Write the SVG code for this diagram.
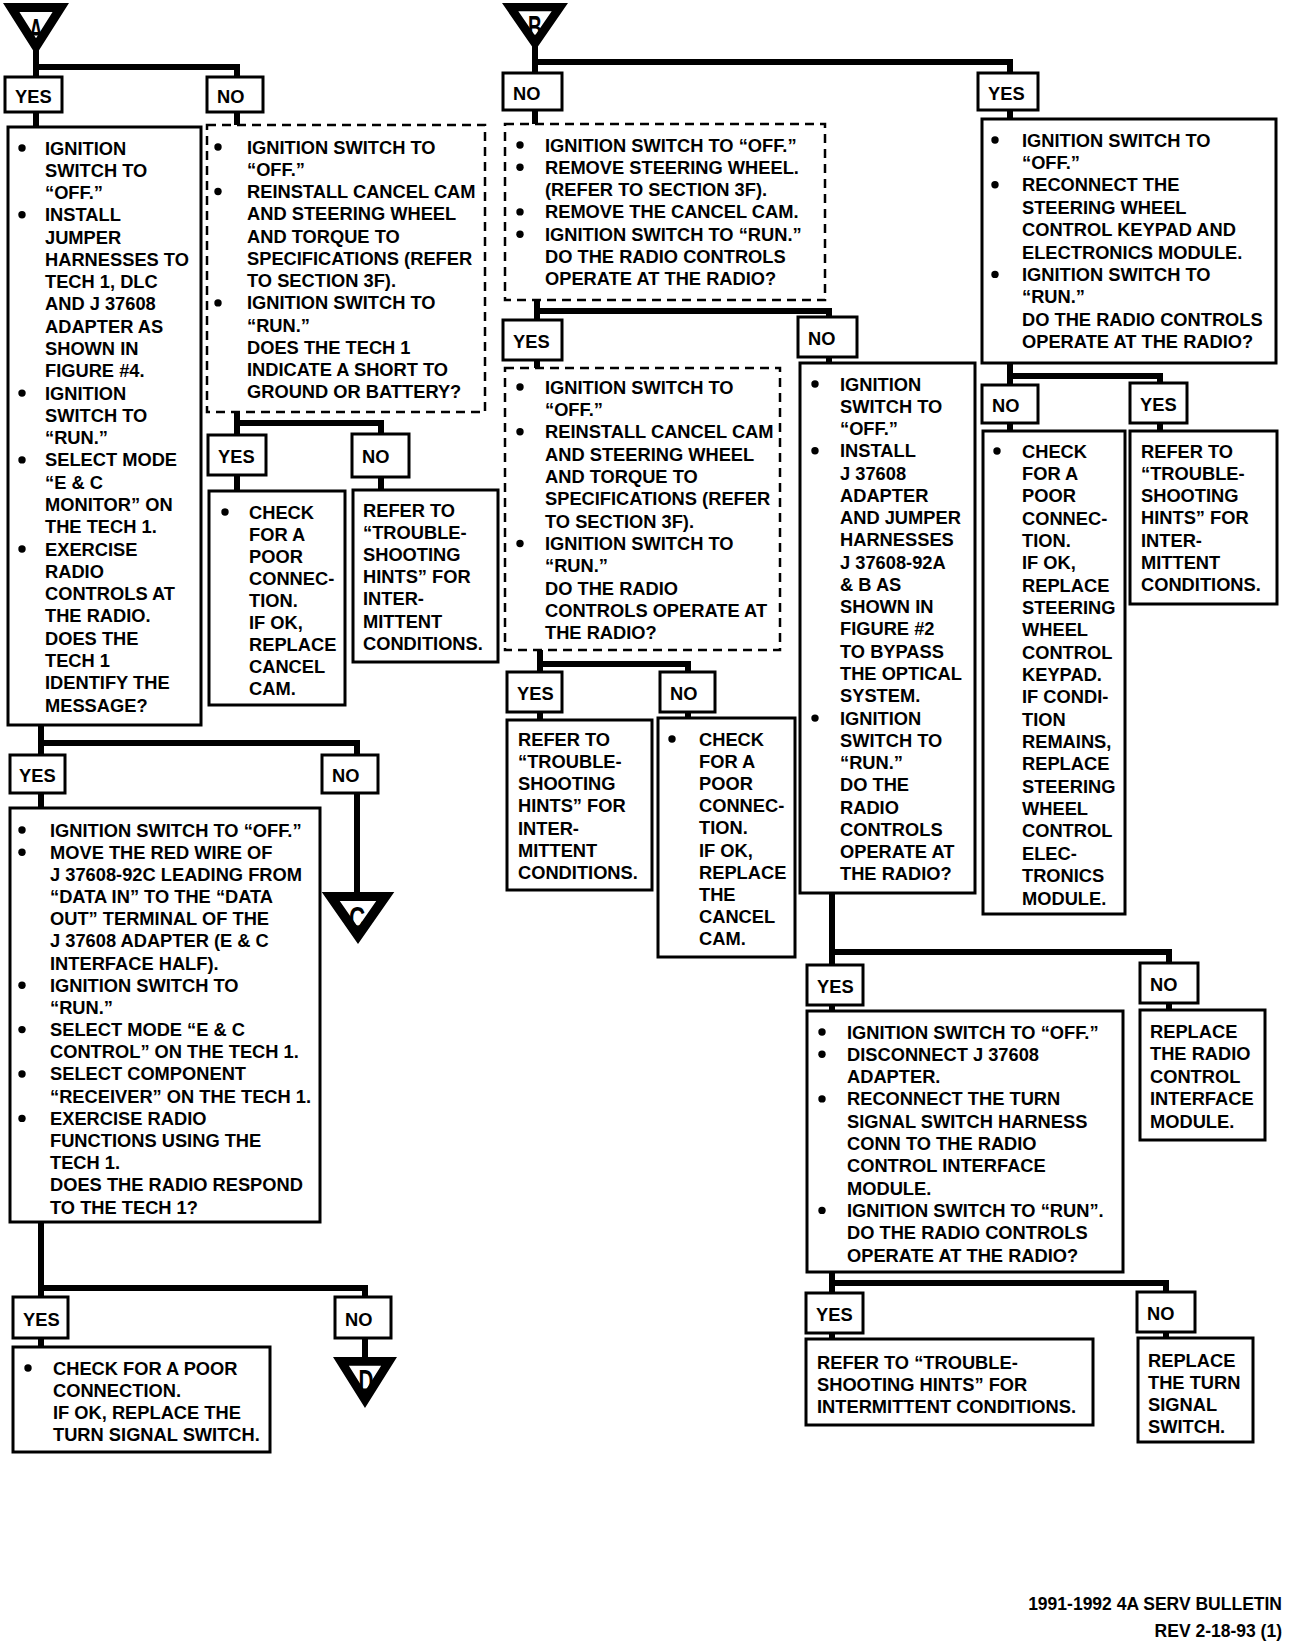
<svg xmlns="http://www.w3.org/2000/svg" xmlns:xlink="http://www.w3.org/1999/xlink" width="1312" height="1642" viewBox="0 0 1312 1642">
<style>
.bx{fill:#fff;stroke:#000;stroke-width:3}
.dx{fill:#fff;stroke:#000;stroke-width:2.5;stroke-dasharray:9 6}
.t{font-family:"Liberation Sans",Arial,sans-serif;font-weight:bold;font-size:18.3px;fill:#000}
.bu{fill:#000;stroke:none}
.cn{fill:none;stroke:#000;stroke-width:6;stroke-linejoin:miter}
.tri{fill:#fff;stroke:#000;stroke-width:9;stroke-linejoin:miter}
.tl{font-family:"Liberation Sans",Arial,sans-serif;font-weight:bold;font-size:32px;text-anchor:middle;fill:#000}
.ft{font-family:"Liberation Sans",Arial,sans-serif;font-weight:bold;font-size:17.5px;text-anchor:end;fill:#000}
</style>
<defs>
<polygon id="tri" class="tri" points="-24.8,4.5 24.8,4.5 0,43.6"/>
<circle id="dot" class="bu" r="3.7"/>
</defs>
<rect width="1312" height="1642" fill="#fff"/>

<g id="connectors">
<path class="cn" d="M36,45 V77 M36,67 H237 V77"/>
<path class="cn" d="M36,112 V128 M237,112 V125"/>
<path class="cn" d="M237,412 V435 M237,423 H381 V434"/>
<path class="cn" d="M237,475 V491 M381,477 V490"/>
<path class="cn" d="M41,725 V755 M41,743 H357 V755"/>
<path class="cn" d="M41,793 V808 M357,793 V896"/>
<path class="cn" d="M41,1222 V1297 M41,1288 H365 V1297"/>
<path class="cn" d="M41,1338 V1347 M365,1338 V1360"/>
<path class="cn" d="M535,45 V73 M535,62 H1010 V73"/>
<path class="cn" d="M535,110 V124"/>
<path class="cn" d="M537,300 V320 M537,311 H829 V317"/>
<path class="cn" d="M537,360 V368 M829,357 V363"/>
<path class="cn" d="M540,650 V672 M540,664 H688 V672"/>
<path class="cn" d="M540,712 V720 M688,712 V718"/>
<path class="cn" d="M832,893 V965 M832,952 H1169 V963"/>
<path class="cn" d="M1010,110 V119"/>
<path class="cn" d="M1010,363 V385 M1010,376 H1160 V383"/>
<path class="cn" d="M1010,423 V431 M1160,423 V431"/>
<path class="cn" d="M832,1005 V1011 M1169,1003 V1010"/>
<path class="cn" d="M832,1272 V1293 M832,1283 H1166 V1292"/>
<path class="cn" d="M832,1333 V1339 M1166,1332 V1338"/>
</g>

<g id="conn-A">
<use xlink:href="#tri" href="#tri" transform="translate(36,3)"/>
<text class="tl" transform="translate(36,41) scale(0.6,1)">A</text>
</g>
<g id="conn-B">
<use xlink:href="#tri" href="#tri" transform="translate(535,3) scale(1,0.92)"/>
<text class="tl" transform="translate(535,38) scale(0.6,1)">B</text>
</g>
<g id="conn-C">
<use xlink:href="#tri" href="#tri" transform="translate(358,892) scale(1.1,1)"/>
<text class="tl" transform="translate(357,929) scale(0.7,1)">C</text>
</g>
<g id="conn-D">
<use xlink:href="#tri" href="#tri" transform="translate(365,1357) scale(0.97,0.98)"/>
<text class="tl" transform="translate(366,1392) scale(0.65,1)">D</text>
</g>

<!-- labels -->
<g id="lbl-1"><rect class="bx" x="5" y="77" width="57" height="35"/><text class="t" x="15" y="102.5">YES</text></g>
<g id="lbl-2"><rect class="bx" x="207" y="77" width="56" height="35"/><text class="t" x="217" y="102.5">NO</text></g>
<g id="lbl-3"><rect class="bx" x="208" y="435" width="58" height="40"/><text class="t" x="218" y="463">YES</text></g>
<g id="lbl-4"><rect class="bx" x="352" y="434" width="57" height="43"/><text class="t" x="362" y="463">NO</text></g>
<g id="lbl-5"><rect class="bx" x="10" y="755" width="55" height="38"/><text class="t" x="19" y="782">YES</text></g>
<g id="lbl-6"><rect class="bx" x="322" y="755" width="56" height="38"/><text class="t" x="332" y="782">NO</text></g>
<g id="lbl-7"><rect class="bx" x="13" y="1297" width="55" height="41"/><text class="t" x="23" y="1325.5">YES</text></g>
<g id="lbl-8"><rect class="bx" x="335" y="1297" width="56" height="41"/><text class="t" x="345" y="1325.5">NO</text></g>
<g id="lbl-9"><rect class="bx" x="503" y="73" width="59" height="37"/><text class="t" x="513" y="100">NO</text></g>
<g id="lbl-10"><rect class="bx" x="503" y="320" width="59" height="40"/><text class="t" x="513" y="348">YES</text></g>
<g id="lbl-11"><rect class="bx" x="798" y="317" width="59" height="40"/><text class="t" x="808" y="345">NO</text></g>
<g id="lbl-12"><rect class="bx" x="507" y="672" width="55" height="40"/><text class="t" x="517" y="700">YES</text></g>
<g id="lbl-13"><rect class="bx" x="660" y="672" width="55" height="40"/><text class="t" x="670" y="700">NO</text></g>
<g id="lbl-14"><rect class="bx" x="978" y="73" width="60" height="37"/><text class="t" x="988" y="100">YES</text></g>
<g id="lbl-15"><rect class="bx" x="982" y="385" width="56" height="38"/><text class="t" x="992" y="412">NO</text></g>
<g id="lbl-16"><rect class="bx" x="1130" y="383" width="57" height="40"/><text class="t" x="1140" y="411">YES</text></g>
<g id="lbl-17"><rect class="bx" x="807" y="965" width="56" height="40"/><text class="t" x="817" y="993">YES</text></g>
<g id="lbl-18"><rect class="bx" x="1140" y="963" width="58" height="40"/><text class="t" x="1150" y="991">NO</text></g>
<g id="lbl-19"><rect class="bx" x="806" y="1293" width="57" height="40"/><text class="t" x="816" y="1321">YES</text></g>
<g id="lbl-20"><rect class="bx" x="1137" y="1292" width="58" height="40"/><text class="t" x="1147" y="1320">NO</text></g>

<!-- A1 -->
<g id="a1">
<rect class="bx" x="8" y="127" width="193" height="598"/>
<circle class="bu" r="3.7" cx="22" cy="148"/><circle class="bu" r="3.7" cx="22" cy="214.8"/><circle class="bu" r="3.7" cx="22" cy="393.1"/><circle class="bu" r="3.7" cx="22" cy="459.9"/><circle class="bu" r="3.7" cx="22" cy="549"/>
<text class="t" x="45" y="154.5"><tspan x="45" dy="0">IGNITION</tspan><tspan x="45" dy="22.28">SWITCH TO</tspan><tspan x="45" dy="22.28">“OFF.”</tspan><tspan x="45" dy="22.28">INSTALL</tspan><tspan x="45" dy="22.28">JUMPER</tspan><tspan x="45" dy="22.28">HARNESSES TO</tspan><tspan x="45" dy="22.28">TECH 1, DLC</tspan><tspan x="45" dy="22.28">AND J 37608</tspan><tspan x="45" dy="22.28">ADAPTER AS</tspan><tspan x="45" dy="22.28">SHOWN IN</tspan><tspan x="45" dy="22.28">FIGURE #4.</tspan><tspan x="45" dy="22.28">IGNITION</tspan><tspan x="45" dy="22.28">SWITCH TO</tspan><tspan x="45" dy="22.28">“RUN.”</tspan><tspan x="45" dy="22.28">SELECT MODE</tspan><tspan x="45" dy="22.28">“E &amp; C</tspan><tspan x="45" dy="22.28">MONITOR” ON</tspan><tspan x="45" dy="22.28">THE TECH 1.</tspan><tspan x="45" dy="22.28">EXERCISE</tspan><tspan x="45" dy="22.28">RADIO</tspan><tspan x="45" dy="22.28">CONTROLS AT</tspan><tspan x="45" dy="22.28">THE RADIO.</tspan><tspan x="45" dy="22.28">DOES THE</tspan><tspan x="45" dy="22.28">TECH 1</tspan><tspan x="45" dy="22.28">IDENTIFY THE</tspan><tspan x="45" dy="22.28">MESSAGE?</tspan></text>
</g>

<!-- A-NO dashed -->
<g id="a-no">
<rect class="dx" x="207" y="125" width="278" height="287"/>
<circle class="bu" r="3.7" cx="218" cy="147"/><circle class="bu" r="3.7" cx="218" cy="191.5"/><circle class="bu" r="3.7" cx="218" cy="302.9"/>
<text class="t" x="247" y="153.5"><tspan x="247" dy="0">IGNITION SWITCH TO</tspan><tspan x="247" dy="22.27">“OFF.”</tspan><tspan x="247" dy="22.27">REINSTALL CANCEL CAM</tspan><tspan x="247" dy="22.27">AND STEERING WHEEL</tspan><tspan x="247" dy="22.27">AND TORQUE TO</tspan><tspan x="247" dy="22.27">SPECIFICATIONS (REFER</tspan><tspan x="247" dy="22.27">TO SECTION 3F).</tspan><tspan x="247" dy="22.27">IGNITION SWITCH TO</tspan><tspan x="247" dy="22.27">“RUN.”</tspan><tspan x="247" dy="22.27">DOES THE TECH 1</tspan><tspan x="247" dy="22.27">INDICATE A SHORT TO</tspan><tspan x="247" dy="22.27">GROUND OR BATTERY?</tspan></text>
</g>

<g id="a-no-yes">
<rect class="bx" x="209" y="491" width="136" height="214"/>
<circle class="bu" r="3.7" cx="225" cy="512"/>
<text class="t" x="249" y="518.5"><tspan x="249" dy="0">CHECK</tspan><tspan x="249" dy="22.1">FOR A</tspan><tspan x="249" dy="22.1">POOR</tspan><tspan x="249" dy="22.1">CONNEC-</tspan><tspan x="249" dy="22.1">TION.</tspan><tspan x="249" dy="22.1">IF OK,</tspan><tspan x="249" dy="22.1">REPLACE</tspan><tspan x="249" dy="22.1">CANCEL</tspan><tspan x="249" dy="22.1">CAM.</tspan></text>
</g>

<g id="a-no-no">
<rect class="bx" x="353" y="490" width="145" height="172"/>
<text class="t" x="363" y="516.5"><tspan x="363" dy="0">REFER TO</tspan><tspan x="363" dy="22.2">“TROUBLE-</tspan><tspan x="363" dy="22.2">SHOOTING</tspan><tspan x="363" dy="22.2">HINTS” FOR</tspan><tspan x="363" dy="22.2">INTER-</tspan><tspan x="363" dy="22.2">MITTENT</tspan><tspan x="363" dy="22.2">CONDITIONS.</tspan></text>
</g>

<g id="a2">
<rect class="bx" x="10" y="808" width="310" height="414"/>
<circle class="bu" r="3.7" cx="22" cy="830"/><circle class="bu" r="3.7" cx="22" cy="852.2"/><circle class="bu" r="3.7" cx="22" cy="985.3"/><circle class="bu" r="3.7" cx="22" cy="1029.6"/><circle class="bu" r="3.7" cx="22" cy="1074"/><circle class="bu" r="3.7" cx="22" cy="1118.4"/>
<text class="t" x="50" y="836.5"><tspan x="50" dy="0">IGNITION SWITCH TO “OFF.”</tspan><tspan x="50" dy="22.18">MOVE THE RED WIRE OF</tspan><tspan x="50" dy="22.18">J 37608-92C LEADING FROM</tspan><tspan x="50" dy="22.18">“DATA IN” TO THE “DATA</tspan><tspan x="50" dy="22.18">OUT” TERMINAL OF THE</tspan><tspan x="50" dy="22.18">J 37608 ADAPTER (E &amp; C</tspan><tspan x="50" dy="22.18">INTERFACE HALF).</tspan><tspan x="50" dy="22.18">IGNITION SWITCH TO</tspan><tspan x="50" dy="22.18">“RUN.”</tspan><tspan x="50" dy="22.18">SELECT MODE “E &amp; C</tspan><tspan x="50" dy="22.18">CONTROL” ON THE TECH 1.</tspan><tspan x="50" dy="22.18">SELECT COMPONENT</tspan><tspan x="50" dy="22.18">“RECEIVER” ON THE TECH 1.</tspan><tspan x="50" dy="22.18">EXERCISE RADIO</tspan><tspan x="50" dy="22.18">FUNCTIONS USING THE</tspan><tspan x="50" dy="22.18">TECH 1.</tspan><tspan x="50" dy="22.18">DOES THE RADIO RESPOND</tspan><tspan x="50" dy="22.18">TO THE TECH 1?</tspan></text>
</g>

<g id="a3">
<rect class="bx" x="13" y="1347" width="257" height="105"/>
<circle class="bu" r="3.7" cx="28" cy="1368"/>
<text class="t" x="53" y="1374.5"><tspan x="53" dy="0">CHECK FOR A POOR</tspan><tspan x="53" dy="22">CONNECTION.</tspan><tspan x="53" dy="22">IF OK, REPLACE THE</tspan><tspan x="53" dy="22">TURN SIGNAL SWITCH.</tspan></text>
</g>

<!-- B side -->
<g id="b-no">
<rect class="dx" x="505" y="124" width="320" height="176"/>
<circle class="bu" r="3.7" cx="520" cy="145"/><circle class="bu" r="3.7" cx="520" cy="167.3"/><circle class="bu" r="3.7" cx="520" cy="211.9"/><circle class="bu" r="3.7" cx="520" cy="234.2"/>
<text class="t" x="545" y="151.5"><tspan x="545" dy="0">IGNITION SWITCH TO “OFF.”</tspan><tspan x="545" dy="22.3">REMOVE STEERING WHEEL.</tspan><tspan x="545" dy="22.3">(REFER TO SECTION 3F).</tspan><tspan x="545" dy="22.3">REMOVE THE CANCEL CAM.</tspan><tspan x="545" dy="22.3">IGNITION SWITCH TO “RUN.”</tspan><tspan x="545" dy="22.3">DO THE RADIO CONTROLS</tspan><tspan x="545" dy="22.3">OPERATE AT THE RADIO?</tspan></text>
</g>

<g id="b-no-yes">
<rect class="dx" x="505" y="368" width="275" height="282"/>
<circle class="bu" r="3.7" cx="520" cy="387"/><circle class="bu" r="3.7" cx="520" cy="431.7"/><circle class="bu" r="3.7" cx="520" cy="543.5"/>
<text class="t" x="545" y="393.5"><tspan x="545" dy="0">IGNITION SWITCH TO</tspan><tspan x="545" dy="22.36">“OFF.”</tspan><tspan x="545" dy="22.36">REINSTALL CANCEL CAM</tspan><tspan x="545" dy="22.36">AND STEERING WHEEL</tspan><tspan x="545" dy="22.36">AND TORQUE TO</tspan><tspan x="545" dy="22.36">SPECIFICATIONS (REFER</tspan><tspan x="545" dy="22.36">TO SECTION 3F).</tspan><tspan x="545" dy="22.36">IGNITION SWITCH TO</tspan><tspan x="545" dy="22.36">“RUN.”</tspan><tspan x="545" dy="22.36">DO THE RADIO</tspan><tspan x="545" dy="22.36">CONTROLS OPERATE AT</tspan><tspan x="545" dy="22.36">THE RADIO?</tspan></text>
</g>

<g id="b-no-yes-yes">
<rect class="bx" x="507" y="720" width="145" height="170"/>
<text class="t" x="518" y="745.5"><tspan x="518" dy="0">REFER TO</tspan><tspan x="518" dy="22.3">“TROUBLE-</tspan><tspan x="518" dy="22.3">SHOOTING</tspan><tspan x="518" dy="22.3">HINTS” FOR</tspan><tspan x="518" dy="22.3">INTER-</tspan><tspan x="518" dy="22.3">MITTENT</tspan><tspan x="518" dy="22.3">CONDITIONS.</tspan></text>
</g>

<g id="b-no-yes-no">
<rect class="bx" x="658" y="718" width="137" height="239"/>
<circle class="bu" r="3.7" cx="672" cy="739"/>
<text class="t" x="699" y="745.5"><tspan x="699" dy="0">CHECK</tspan><tspan x="699" dy="22.2">FOR A</tspan><tspan x="699" dy="22.2">POOR</tspan><tspan x="699" dy="22.2">CONNEC-</tspan><tspan x="699" dy="22.2">TION.</tspan><tspan x="699" dy="22.2">IF OK,</tspan><tspan x="699" dy="22.2">REPLACE</tspan><tspan x="699" dy="22.2">THE</tspan><tspan x="699" dy="22.2">CANCEL</tspan><tspan x="699" dy="22.2">CAM.</tspan></text>
</g>

<g id="b-no-no">
<rect class="bx" x="800" y="363" width="175" height="530"/>
<circle class="bu" r="3.7" cx="815" cy="384"/><circle class="bu" r="3.7" cx="815" cy="450.8"/><circle class="bu" r="3.7" cx="815" cy="718.1"/>
<text class="t" x="840" y="390.5"><tspan x="840" dy="0">IGNITION</tspan><tspan x="840" dy="22.27">SWITCH TO</tspan><tspan x="840" dy="22.27">“OFF.”</tspan><tspan x="840" dy="22.27">INSTALL</tspan><tspan x="840" dy="22.27">J 37608</tspan><tspan x="840" dy="22.27">ADAPTER</tspan><tspan x="840" dy="22.27">AND JUMPER</tspan><tspan x="840" dy="22.27">HARNESSES</tspan><tspan x="840" dy="22.27">J 37608-92A</tspan><tspan x="840" dy="22.27">&amp; B AS</tspan><tspan x="840" dy="22.27">SHOWN IN</tspan><tspan x="840" dy="22.27">FIGURE #2</tspan><tspan x="840" dy="22.27">TO BYPASS</tspan><tspan x="840" dy="22.27">THE OPTICAL</tspan><tspan x="840" dy="22.27">SYSTEM.</tspan><tspan x="840" dy="22.27">IGNITION</tspan><tspan x="840" dy="22.27">SWITCH TO</tspan><tspan x="840" dy="22.27">“RUN.”</tspan><tspan x="840" dy="22.27">DO THE</tspan><tspan x="840" dy="22.27">RADIO</tspan><tspan x="840" dy="22.27">CONTROLS</tspan><tspan x="840" dy="22.27">OPERATE AT</tspan><tspan x="840" dy="22.27">THE RADIO?</tspan></text>
</g>

<g id="b-no-no-yes">
<rect class="bx" x="807" y="1011" width="316" height="261"/>
<circle class="bu" r="3.7" cx="822" cy="1032"/><circle class="bu" r="3.7" cx="822" cy="1054.3"/><circle class="bu" r="3.7" cx="822" cy="1098.9"/><circle class="bu" r="3.7" cx="822" cy="1210.4"/>
<text class="t" x="847" y="1038.5"><tspan x="847" dy="0">IGNITION SWITCH TO “OFF.”</tspan><tspan x="847" dy="22.3">DISCONNECT J 37608</tspan><tspan x="847" dy="22.3">ADAPTER.</tspan><tspan x="847" dy="22.3">RECONNECT THE TURN</tspan><tspan x="847" dy="22.3">SIGNAL SWITCH HARNESS</tspan><tspan x="847" dy="22.3">CONN TO THE RADIO</tspan><tspan x="847" dy="22.3">CONTROL INTERFACE</tspan><tspan x="847" dy="22.3">MODULE.</tspan><tspan x="847" dy="22.3">IGNITION SWITCH TO “RUN”.</tspan><tspan x="847" dy="22.3">DO THE RADIO CONTROLS</tspan><tspan x="847" dy="22.3">OPERATE AT THE RADIO?</tspan></text>
</g>

<g id="b-no-no-no">
<rect class="bx" x="1140" y="1010" width="125" height="130"/>
<text class="t" x="1150" y="1037.5"><tspan x="1150" dy="0">REPLACE</tspan><tspan x="1150" dy="22.5">THE RADIO</tspan><tspan x="1150" dy="22.5">CONTROL</tspan><tspan x="1150" dy="22.5">INTERFACE</tspan><tspan x="1150" dy="22.5">MODULE.</tspan></text>
</g>

<g id="b-no-no-yes-yes">
<rect class="bx" x="806" y="1339" width="287" height="86"/>
<text class="t" x="817" y="1368.5"><tspan x="817" dy="0">REFER TO “TROUBLE-</tspan><tspan x="817" dy="22">SHOOTING HINTS” FOR</tspan><tspan x="817" dy="22">INTERMITTENT CONDITIONS.</tspan></text>
</g>

<g id="b-no-no-yes-no">
<rect class="bx" x="1138" y="1338" width="115" height="104"/>
<text class="t" x="1148" y="1366.5"><tspan x="1148" dy="0">REPLACE</tspan><tspan x="1148" dy="22.3">THE TURN</tspan><tspan x="1148" dy="22.3">SIGNAL</tspan><tspan x="1148" dy="22.3">SWITCH.</tspan></text>
</g>

<g id="b-yes">
<rect class="bx" x="982" y="119" width="294" height="244"/>
<circle class="bu" r="3.7" cx="995" cy="140"/><circle class="bu" r="3.7" cx="995" cy="184.8"/><circle class="bu" r="3.7" cx="995" cy="274.4"/>
<text class="t" x="1022" y="146.5"><tspan x="1022" dy="0">IGNITION SWITCH TO</tspan><tspan x="1022" dy="22.4">“OFF.”</tspan><tspan x="1022" dy="22.4">RECONNECT THE</tspan><tspan x="1022" dy="22.4">STEERING WHEEL</tspan><tspan x="1022" dy="22.4">CONTROL KEYPAD AND</tspan><tspan x="1022" dy="22.4">ELECTRONICS MODULE.</tspan><tspan x="1022" dy="22.4">IGNITION SWITCH TO</tspan><tspan x="1022" dy="22.4">“RUN.”</tspan><tspan x="1022" dy="22.4">DO THE RADIO CONTROLS</tspan><tspan x="1022" dy="22.4">OPERATE AT THE RADIO?</tspan></text>
</g>

<g id="b-yes-no">
<rect class="bx" x="983" y="431" width="142" height="483"/>
<circle class="bu" r="3.7" cx="997" cy="451"/>
<text class="t" x="1022" y="457.5"><tspan x="1022" dy="0">CHECK</tspan><tspan x="1022" dy="22.35">FOR A</tspan><tspan x="1022" dy="22.35">POOR</tspan><tspan x="1022" dy="22.35">CONNEC-</tspan><tspan x="1022" dy="22.35">TION.</tspan><tspan x="1022" dy="22.35">IF OK,</tspan><tspan x="1022" dy="22.35">REPLACE</tspan><tspan x="1022" dy="22.35">STEERING</tspan><tspan x="1022" dy="22.35">WHEEL</tspan><tspan x="1022" dy="22.35">CONTROL</tspan><tspan x="1022" dy="22.35">KEYPAD.</tspan><tspan x="1022" dy="22.35">IF CONDI-</tspan><tspan x="1022" dy="22.35">TION</tspan><tspan x="1022" dy="22.35">REMAINS,</tspan><tspan x="1022" dy="22.35">REPLACE</tspan><tspan x="1022" dy="22.35">STEERING</tspan><tspan x="1022" dy="22.35">WHEEL</tspan><tspan x="1022" dy="22.35">CONTROL</tspan><tspan x="1022" dy="22.35">ELEC-</tspan><tspan x="1022" dy="22.35">TRONICS</tspan><tspan x="1022" dy="22.35">MODULE.</tspan></text>
</g>

<g id="b-yes-yes">
<rect class="bx" x="1130" y="431" width="147" height="173"/>
<text class="t" x="1141" y="457.5"><tspan x="1141" dy="0">REFER TO</tspan><tspan x="1141" dy="22.3">“TROUBLE-</tspan><tspan x="1141" dy="22.3">SHOOTING</tspan><tspan x="1141" dy="22.3">HINTS” FOR</tspan><tspan x="1141" dy="22.3">INTER-</tspan><tspan x="1141" dy="22.3">MITTENT</tspan><tspan x="1141" dy="22.3">CONDITIONS.</tspan></text>
</g>

<g id="footer">
<text class="ft" x="1282" y="1610">1991-1992 4A SERV BULLETIN</text>
<text class="ft" x="1282" y="1637">REV 2-18-93 (1)</text>
</g>
</svg>
